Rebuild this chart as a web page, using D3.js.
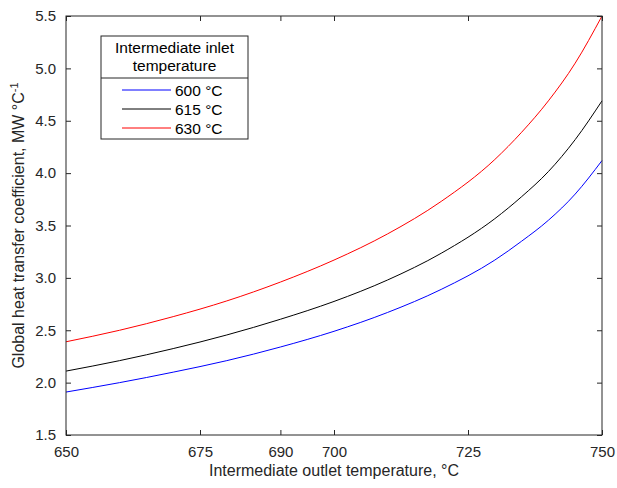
<!DOCTYPE html>
<html>
<head>
<meta charset="utf-8">
<script src="https://cdn.jsdelivr.net/npm/d3@7"></script>
<style>
html,body{margin:0;padding:0;background:#fff;}
text{font-family:"Liberation Sans",Arial,Helvetica,sans-serif;}
</style>
</head>
<body>
<svg id="chart" width="617" height="488"></svg>
<script>
const outletTemps = [650, 660, 670, 680, 690, 700, 710, 720, 730, 735, 740, 745, 750];
const series600 = [1.91, 2.00, 2.10, 2.21, 2.34, 2.49, 2.67, 2.89, 3.17, 3.35, 3.55, 3.80, 4.12];
const series615 = [2.11, 2.21, 2.325, 2.455, 2.605, 2.775, 2.98, 3.235, 3.565, 3.775, 4.015, 4.32, 4.69];
const series630 = [2.39, 2.50, 2.63, 2.78, 2.96, 3.17, 3.42, 3.73, 4.13, 4.39, 4.69, 5.05, 5.50];
const seriesNames = ["600 °C", "615 °C", "630 °C"];
const seriesColors = ["#0000ff", "#000000", "#ff0000"];
const xTicks = [650, 675, 690, 700, 725, 750];
const yTicks = [1.5, 2.0, 2.5, 3.0, 3.5, 4.0, 4.5, 5.0, 5.5];

const svg = d3.select("#chart");
const L = 66, R = 602, T = 16, B = 435;
const x = d3.scaleLinear().domain([650, 750]).range([L, R]);
const y = d3.scaleLinear().domain([1.5, 5.5]).range([B, T]);
const axisColor = "#262626";

const allSeries = [series600, series615, series630];
const line = d3.line().x(d => x(d[0])).y(d => y(d[1])).curve(d3.curveMonotoneX);

const plot = svg.append("g");
allSeries.forEach((s, i) => {
  plot.append("path")
    .datum(outletTemps.map((t, j) => [t, s[j]]))
    .attr("fill", "none")
    .attr("stroke", seriesColors[i])
    .attr("stroke-width", 1)
    .attr("d", line);
});

function styleAxis(g, showLabels) {
  g.select(".domain").remove();
  g.selectAll(".tick line").attr("stroke", axisColor).attr("stroke-width", 1);
  g.selectAll(".tick text").attr("fill", "#262626").style("font-size", "15px");
  if (!showLabels) g.selectAll(".tick text").remove();
}

// bottom
svg.append("g").attr("transform", `translate(0,${B})`)
  .call(d3.axisBottom(x).tickValues(xTicks).tickFormat(d3.format("d")).tickSizeInner(-5).tickPadding(11))
  .call(g => styleAxis(g, true));
// top
svg.append("g").attr("transform", `translate(0,${T})`)
  .call(d3.axisTop(x).tickValues(xTicks).tickSizeInner(-5))
  .call(g => styleAxis(g, false));
// left
svg.append("g").attr("transform", `translate(${L},0)`)
  .call(d3.axisLeft(y).tickValues(yTicks).tickFormat(d3.format(".1f")).tickSizeInner(-5).tickPadding(10))
  .call(g => styleAxis(g, true));
// right
svg.append("g").attr("transform", `translate(${R},0)`)
  .call(d3.axisRight(y).tickValues(yTicks).tickSizeInner(-5))
  .call(g => styleAxis(g, false));

// frame
svg.append("rect").attr("x", L).attr("y", T).attr("width", R - L).attr("height", B - T)
  .attr("fill", "none").attr("stroke", axisColor).attr("stroke-width", 1);

// axis titles
svg.append("text").attr("x", (L + R) / 2).attr("y", 476).attr("text-anchor", "middle")
  .attr("fill", "#262626").style("font-size", "16px").text("Intermediate outlet temperature, °C");
const yl = svg.append("text").attr("transform", `translate(24,${(T + B) / 2}) rotate(-90)`)
  .attr("text-anchor", "middle").attr("fill", "#262626").style("font-size", "16px");
yl.append("tspan").text("Global heat transfer coefficient, MW °C");
yl.append("tspan").attr("dy", -6).style("font-size", "11px").text("-1");

// legend
const lg = svg.append("g");
const lx = 101, ly = 36, lw = 147, lh = 103, sep = 78;
lg.append("rect").attr("x", lx).attr("y", ly).attr("width", lw).attr("height", lh)
  .attr("fill", "#fff").attr("stroke", axisColor).attr("stroke-width", 1);
lg.append("line").attr("x1", lx).attr("x2", lx + lw).attr("y1", sep).attr("y2", sep)
  .attr("stroke", axisColor).attr("stroke-width", 1);
lg.append("text").attr("x", lx + lw / 2).attr("y", 53).attr("text-anchor", "middle")
  .style("font-size", "15.5px").attr("fill", "#000").text("Intermediate inlet");
lg.append("text").attr("x", lx + lw / 2).attr("y", 71).attr("text-anchor", "middle")
  .style("font-size", "15.5px").attr("fill", "#000").text("temperature");
seriesNames.forEach((n, i) => {
  const yy = 90 + i * 19;
  lg.append("line").attr("x1", 122).attr("x2", 171).attr("y1", yy).attr("y2", yy)
    .attr("stroke", seriesColors[i]).attr("stroke-width", 1);
  lg.append("text").attr("x", 175).attr("y", yy + 5.5).style("font-size", "15.5px")
    .attr("fill", "#000").text(n);
});
</script>
</body>
</html>
